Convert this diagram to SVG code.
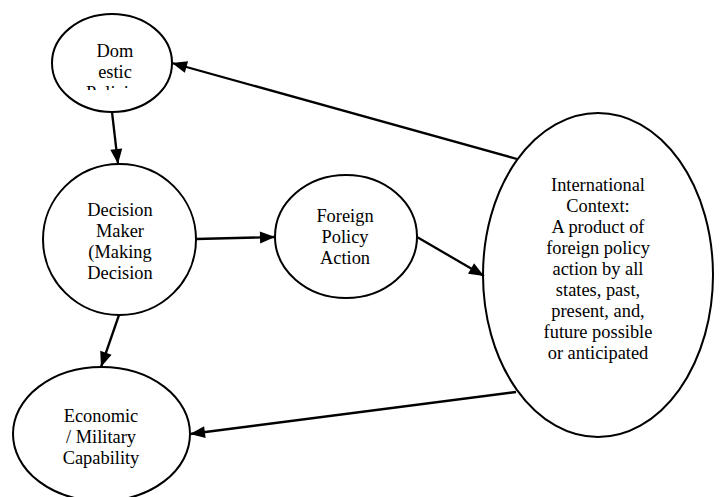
<svg xmlns="http://www.w3.org/2000/svg" width="721" height="497" viewBox="0 0 721 497">
<style>
.node{fill:#fff;stroke:#000;stroke-width:2}
.lbl{font-family:'Liberation Serif', serif;font-size:18.4px;fill:#000;text-anchor:middle}
.edge{stroke:#000;stroke-width:2.3;fill:none;marker-end:url(#ah)}
</style>
<defs>
<marker id="ah" markerUnits="userSpaceOnUse" markerWidth="16" markerHeight="13" refX="15" refY="6" orient="auto" overflow="visible">
<path d="M0,0 L15,6 L0,12 z" fill="#000"/>
</marker>
<clipPath id="domClip"><rect x="60" y="30" width="110" height="60"/></clipPath>
</defs>
<rect width="721" height="497" fill="#fff"/>
<g id="domestic">
<ellipse class="node" cx="112" cy="63" rx="60" ry="49"/>
<g clip-path="url(#domClip)">
<text class="lbl" x="115" y="57">Dom</text>
<text class="lbl" x="115" y="78">estic</text>
<text class="lbl" x="115" y="99">Policies</text>
</g>
</g>
<g id="decision">
<ellipse class="node" cx="119.5" cy="239.5" rx="76.5" ry="75.5"/>
<text class="lbl" x="120" y="216">Decision</text>
<text class="lbl" x="120" y="237">Maker</text>
<text class="lbl" x="120" y="258">(Making</text>
<text class="lbl" x="120" y="279">Decision</text>
</g>
<g id="foreign">
<ellipse class="node" cx="346" cy="236.5" rx="71" ry="61.5"/>
<text class="lbl" x="345" y="222">Foreign</text>
<text class="lbl" x="345" y="243">Policy</text>
<text class="lbl" x="345" y="264">Action</text>
</g>
<g id="international">
<ellipse class="node" cx="598" cy="275" rx="115" ry="162"/>
<text class="lbl" x="598" y="191">International</text>
<text class="lbl" x="598" y="212">Context:</text>
<text class="lbl" x="598" y="233">A product of</text>
<text class="lbl" x="598" y="254">foreign policy</text>
<text class="lbl" x="598" y="275">action by all</text>
<text class="lbl" x="598" y="296">states, past,</text>
<text class="lbl" x="598" y="317">present, and,</text>
<text class="lbl" x="598" y="338">future possible</text>
<text class="lbl" x="598" y="359">or anticipated</text>
</g>
<g id="economic">
<ellipse class="node" cx="101.5" cy="434" rx="88.5" ry="67"/>
<text class="lbl" x="101" y="422">Economic</text>
<text class="lbl" x="101" y="443">/ Military</text>
<text class="lbl" x="101" y="464">Capability</text>
</g>
<g id="connectors">
<line class="edge" x1="517" y1="159" x2="172" y2="63"/>
<line class="edge" x1="112" y1="112" x2="118" y2="164"/>
<line class="edge" x1="196" y1="239" x2="275" y2="237"/>
<line class="edge" x1="417" y1="237" x2="484" y2="276"/>
<line class="edge" x1="516" y1="392" x2="190" y2="434"/>
<line class="edge" x1="119" y1="315" x2="101" y2="367"/>
</g>
</svg>
